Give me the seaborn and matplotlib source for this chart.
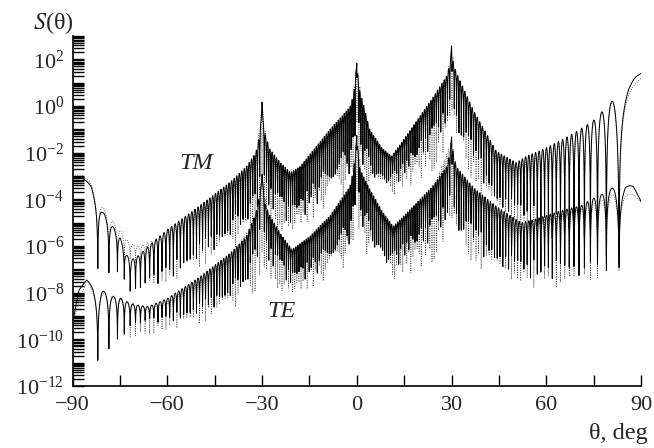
import numpy as np
import pandas as pd
import matplotlib
matplotlib.use("Agg")
import matplotlib.pyplot as plt
import seaborn as sns
from matplotlib.ticker import FixedLocator, LogLocator, LogFormatterMathtext, NullFormatter

# ---------------- values ----------------
# envelopes of each curve: angle (deg), log10 of upper envelope (lobe peaks),
# log10 of lower envelope (null depth)
tm_angle = [-90, -87, -84, -82, -80.6, -77.4, -75, -73.4, -71.5, -69, -66, -60, -50, -40, -35, -32, -31,
            -30.3, -30, -29.7, -29, -27.5, -24, -21, -18, -8.5, -2.2, -1.0, -0.3, 0, 0.3, 1.0, 2.0, 4.1, 8, 11, 14,
            24, 28.4, 29.3, 29.7, 30, 30.3, 30.7, 31.5, 37, 44.2, 50.5, 53.7, 58.9, 64.2, 68.9, 74.7, 80.4, 83, 86, 88, 90]
tm_top = [-3.07, -3.08, -3.3, -3.9, -4.5, -5.13, -5.6, -6.3, -6.6, -6.4, -6.0, -5.3, -4.3, -3.25, -2.6, -2.0, -1.4,
          -0.6, 0.28, -0.6, -1.2, -1.86, -2.45, -2.85, -2.6, -1.0, -0.05, 0.5, 1.4, 1.88, 1.4, 0.6, 0.14, -1.0, -1.8, -2.15, -1.6,
          0.35, 1.28, 1.7, 2.0, 2.6, 2.0, 1.8, 1.44, -0.2, -1.94, -2.43, -2.15, -1.86, -1.5, -1.15, -0.65, 0.14, 0.6, 1.25, 1.45, 1.5]
tm_bottom = [-7.1, -7.1, -7.1, -7.1, -7.15, -7.15, -7.2, -7.5, -8.3, -8.0, -7.9, -7.5, -6.7, -5.7, -5.2, -4.8, -4.5,
             -4.0, 0.1, -4.0, -4.3, -4.4, -4.8, -5.2, -5.0, -3.6, -3.0, -2.5, -1.5, 1.7, -1.5, -2.4, -2.6, -3.0, -3.2, -3.4, -3.2,
             -1.8, -1.0, -0.5, -0.3, 2.4, -0.3, -0.5, -1.0, -2.6, -4.2, -4.8, -5.2, -5.5, -5.8, -6.0, -6.3, -6.5, -6.5, -6.5, -6.5, -6.5]

tm_dot_angle = [-90, -87, -84, -82, -80.4, -77.4, -75, -72, -69, -65, -60, -50, -40, -35, -32, -30, -28, -21,
                -8.5, -2, 0, 2, 4, 11, 24, 28.4, 30, 31.5, 44, 50.5, 60, 70, 80.4, 86, 90]
tm_dot_top = [-2.95, -2.97, -3.2, -3.8, -4.35, -4.9, -5.3, -5.9, -6.0, -5.8, -5.4, -4.5, -3.5, -2.9, -2.3, 0.1, -2.2, -3.0,
              -1.3, -0.3, 1.7, -0.1, -1.2, -2.3, 0.1, 1.1, 2.5, 1.2, -2.1, -2.6, -2.0, -1.2, 0.05, 1.05, 1.28]
tm_dot_bottom = [-7.0, -7.0, -7.0, -7.0, -7.1, -7.1, -6.9, -6.6, -6.9, -7.6, -7.6, -7.0, -6.2, -5.8, -5.4, -4.2, -5.2, -5.6,
                 -4.2, -3.7, -2.0, -3.6, -3.8, -4.0, -2.8, -1.9, -0.5, -2.0, -4.9, -5.5, -6.3, -6.7, -7.0, -7.0, -7.0]

te_angle = [-90, -88, -85.5, -83.5, -82, -80.6, -77.7, -75.2, -72, -69, -66, -60, -50, -40, -35, -32, -31, -30.3, -30, -29.7, -29,
            -27.5, -24, -20.5, -15, -8.5, -2.2, -1.0, -0.3, 0, 0.3, 1.0, 4.1, 8, 11.5, 15, 24, 28.4, 29.3, 29.7, 30, 30.3, 30.7,
            31.5, 37, 44.2, 52, 56, 64.3, 71, 74.2, 76.9, 80, 83, 85, 87.5, 90]
te_top = [-9.3, -7.9, -7.42, -7.6, -8.0, -7.9, -8.15, -8.2, -8.45, -8.55, -8.6, -8.25, -7.35, -6.3, -5.6, -4.6, -4.0, -3.4, -2.8, -3.4, -4.2,
          -4.7, -5.5, -6.15, -5.6, -4.7, -3.45, -2.7, -1.8, -1.22, -1.8, -2.7, -3.55, -4.5, -5.16, -4.7, -3.44, -2.6, -2.1, -1.8, -1.3, -1.8, -2.1,
          -2.6, -3.5, -4.3, -5.0, -4.87, -4.5, -4.27, -4.0, -3.84, -3.6, -3.3, -3.04, -3.3, -4.05]
te_bottom = [-11.0, -11.0, -11.0, -11.0, -11.0, -10.7, -10.3, -10.0, -9.6, -9.4, -9.3, -9.3, -9.0, -8.3, -7.8, -7.0, -6.5, -6.0, -3.0, -6.0, -6.5,
             -6.8, -7.3, -7.8, -7.4, -6.8, -6.0, -5.2, -4.5, -1.4, -4.5, -5.0, -5.8, -6.5, -7.0, -6.6, -5.8, -5.2, -4.8, -4.5, -1.5, -4.5, -4.8,
             -5.3, -6.2, -6.8, -7.3, -7.4, -7.4, -7.3, -7.2, -7.2, -7.0, -7.0, -7.0, -7.0, -7.0]

te_dot_angle = [-90, -85.5, -82, -77.7, -72, -66, -60, -50, -40, -32, -30, -28, -20.5, -8.5, -2, 0, 2, 11.5, 24,
                30, 32, 44, 52, 64, 71, 80, 84, 87, 90]
te_dot_top = [-9.3, -7.45, -8.0, -8.1, -8.4, -8.65, -8.4, -7.5, -6.5, -4.8, -3.0, -4.8, -6.3, -4.9, -3.6, -1.4, -3.2, -5.3, -3.6,
              -1.5, -2.9, -4.5, -5.2, -4.7, -4.4, -3.9, -3.44, -3.6, -4.08]
te_dot_bottom = [-11.0, -11.0, -11.0, -10.3, -10.0, -9.8, -9.6, -9.4, -8.8, -8.0, -6.8, -7.7, -8.2, -7.4, -6.7, -4.8, -6.2, -7.6, -6.7,
                 -5.3, -6.2, -7.5, -7.8, -7.8, -7.6, -7.3, -7.0, -7.0, -7.0]

# local width of one interference lobe (deg), read from the lobe spacing
period_angle = [-90, -87, -84, -82, -80, -77, -74, -70, -65, -55, -45, -30, -15, 0,
                15, 30, 45, 55, 65, 70, 74, 77, 80, 82, 84, 87, 90]
period_deg = [40, 25, 10, 4.5, 3.3, 2.7, 2.0, 1.6, 1.35, 1.05, 0.88, 0.72, 0.64, 0.62,
              0.64, 0.72, 0.88, 1.05, 1.35, 1.6, 2.0, 2.7, 3.3, 4.5, 10, 25, 40]

x_tick_labels = [-90, -60, -30, 0, 30, 60, 90]
x_minor_ticks = [-75, -45, -15, 15, 45, 75]
y_tick_exponents = [-12, -10, -8, -6, -4, -2, 0, 2]
labels = {"TM": (-50.9, -2.47), "TE": (-23.7, -8.82)}

# ---------------- build the oscillating curves ----------------
theta = np.linspace(-90, 90, 6001)
step = theta[1] - theta[0]


def phase(th):
    fine = np.linspace(-90, 90, 36001)
    inv_p = 1.0 / np.interp(fine, period_angle, period_deg)
    cum = np.concatenate([[0], np.cumsum(0.5 * (inv_p[1:] + inv_p[:-1]) * np.diff(fine))])
    cum = cum - np.interp(-82.0, fine, cum)      # null at -82 deg
    return np.interp(th, fine, cum)


def curve(th, ang, top, bot, depth=4.0):
    u = np.interp(th, ang, top)
    l = np.interp(th, ang, bot)
    s = np.sin(np.pi * phase(th)) ** 2
    return 10 ** (u + (u - l) / depth * np.log10(s + 10 ** -depth))


theta_dot = np.clip(theta + step / 2, -90, 90)
df_tm = pd.DataFrame({"theta": theta, "S": curve(theta, tm_angle, tm_top, tm_bottom)})
df_tm_dot = pd.DataFrame({"theta": theta_dot, "S": curve(theta_dot, tm_dot_angle, tm_dot_top, tm_dot_bottom)})
df_te = pd.DataFrame({"theta": theta, "S": curve(theta, te_angle, te_top, te_bottom)})
df_te_dot = pd.DataFrame({"theta": theta_dot, "S": curve(theta_dot, te_dot_angle, te_dot_top, te_dot_bottom)})

# ---------------- draw ----------------
sns.set_theme(style="ticks")
plt.rcParams["font.family"] = ["Liberation Serif", "DejaVu Serif"]
plt.rcParams["mathtext.fontset"] = "stix"

fig = plt.figure(figsize=(6.54, 4.48), dpi=100)
ax = fig.add_axes([0.1109, 0.1384, 0.8693, 0.7813])

for df in (df_tm_dot, df_te_dot):
    sns.lineplot(data=df, x="theta", y="S", ax=ax, color="0.25", lw=0.6,
                 linestyle=(0, (1, 1.8)), estimator=None, sort=False)
for df in (df_tm, df_te):
    sns.lineplot(data=df, x="theta", y="S", ax=ax, color="black", lw=0.7,
                 estimator=None, sort=False)

ax.set_yscale("log")
ax.set_xlim(-90, 90)
ax.set_ylim(1e-12, 1e3)
ax.set_xlabel("")
ax.set_ylabel("")

ax.xaxis.set_major_locator(FixedLocator(x_tick_labels))
ax.xaxis.set_minor_locator(FixedLocator(x_minor_ticks))
ax.set_xticklabels([f"{v:d}".replace("-", "\u2212") for v in x_tick_labels])

ax.yaxis.set_major_locator(FixedLocator([10.0 ** e for e in y_tick_exponents]))
ax.yaxis.set_major_formatter(LogFormatterMathtext())
ax.yaxis.set_minor_locator(LogLocator(base=10, subs=np.arange(1, 10), numticks=200))
ax.yaxis.set_minor_formatter(NullFormatter())

ax.tick_params(axis="both", which="both", direction="in", length=8, width=1.0, color="black")
ax.tick_params(axis="y", which="major", labelsize=16, pad=6)
ax.tick_params(axis="x", which="major", labelsize=16, pad=7)
for side in ("top", "right"):
    ax.spines[side].set_visible(False)
for side in ("left", "bottom"):
    ax.spines[side].set_linewidth(1.2)
    ax.spines[side].set_color("black")

for name, (lx, ly) in labels.items():
    ax.text(lx, 10 ** ly, name, fontsize=17.5, style="italic", ha="center", va="center")

fig.text(0.081, 0.949, "$S$(\u03b8)", fontsize=17.5, ha="center", va="center")
fig.text(0.945, 0.033, "\u03b8, deg", fontsize=17.5, ha="center", va="center")

fig.savefig("out.png", dpi=100, facecolor="white")
